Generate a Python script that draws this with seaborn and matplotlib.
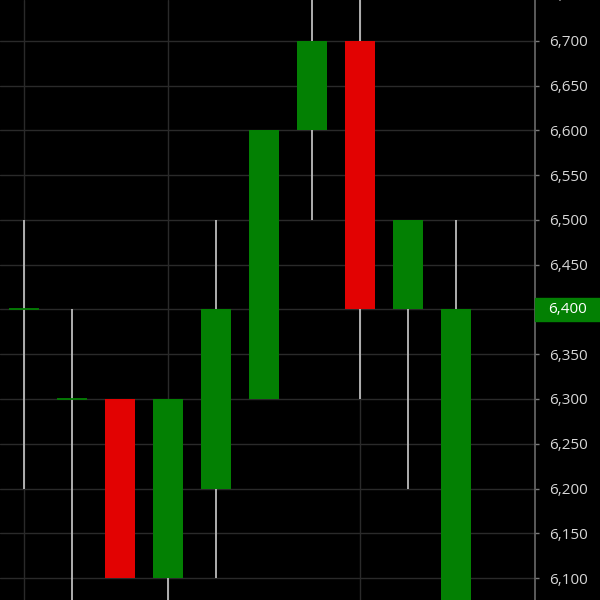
import numpy as np
import pandas as pd
import matplotlib
matplotlib.use("Agg")
import matplotlib.pyplot as plt
import matplotlib.ticker as mticker
import matplotlib.transforms as mtransforms
from matplotlib.patches import Rectangle
import seaborn as sns

# candle data
opens = [6400, 6300, 6300, 6100, 6200, 6300, 6600, 6700, 6400, 6000]
closes = [6400, 6300, 6100, 6300, 6400, 6600, 6700, 6400, 6500, 6400]
highs = [6500, 6400, 6300, 6300, 6500, 6600, 6800, 6800, 6500, 6500]
lows = [6200, 6000, 6100, 6000, 6100, 6300, 6500, 6300, 6200, 6000]
grid_at = [0, 3, 7]  # candles that carry a vertical grid line
last_price = 6400

df = pd.DataFrame({"open": opens, "close": closes, "high": highs, "low": lows})
df["x"] = np.arange(len(df))
df["up"] = df["close"] >= df["open"]

sns.set_theme(style="dark", rc={
    "axes.facecolor": "black",
    "figure.facecolor": "black",
})
plt.rcParams["font.family"] = ["Open Sans", "DejaVu Sans"]

green = "#038003"
red = "#e20202"
wick = "#bcbcbc"
gridc = "#2a2a2a"
labc = "#d6d6d6"

fig = plt.figure(figsize=(6, 6), dpi=100)
ax = fig.add_axes([0, 0, 535 / 600, 1])

for x in grid_at:
    ax.axvline(x, color=gridc, lw=1.0, zorder=0)
for y in np.arange(6100, 6800, 50):
    ax.axhline(y, color=gridc, lw=1.0, zorder=0)

ax.vlines(df["x"], df["low"], df["high"], color=wick, lw=1.3, zorder=2)

colors = [green if u else red for u in df["up"]]
body_lo = df[["open", "close"]].min(axis=1)
body_hi = df[["open", "close"]].max(axis=1)
width = 0.63
ax.bar(df["x"], body_hi - body_lo, bottom=body_lo, width=width,
       color=colors, linewidth=0, zorder=3)
doji = df[df["open"] == df["close"]]
ax.hlines(doji["close"], doji["x"] - width / 2, doji["x"] + width / 2,
          color=green, lw=1.3, zorder=3)

ax.set_xlim(-0.5, 10.65)
ax.set_ylim(6075.5, 6745.5)
ax.set_xticks([])
ax.yaxis.tick_right()
ax.yaxis.set_major_locator(mticker.MultipleLocator(50))
ax.yaxis.set_major_formatter(mticker.FuncFormatter(
    lambda v, p: "" if round(v) == last_price else f"{int(round(v)):,}"))
ax.tick_params(axis="y", colors="#7a7a7a", labelcolor=labc,
               labelsize=11, length=3, width=1, pad=7, right=True)
for s in ["top", "left", "bottom"]:
    ax.spines[s].set_visible(False)
ax.spines["right"].set_color("#6a6a6a")
ax.spines["right"].set_linewidth(1.2)
ax.grid(False)

tr = mtransforms.blended_transform_factory(ax.transAxes, ax.transData)
# 6,750 sits just above the top edge and is cut off
ax.text(1.0 + 15 / 535, 6750, "6,750", transform=tr, color=labc,
        fontsize=11, va="center", ha="left", clip_on=False)

# last price tag
ax.add_patch(Rectangle((1.0, last_price - 13), 600 / 535 - 1.0, 26,
                       transform=tr, color=green, clip_on=False, zorder=5))
ax.text(1.0 + 13 / 535, last_price, f"{last_price:,}", transform=tr,
        color="white", fontsize=11, va="center", ha="left", zorder=6)

fig.savefig("out.png", dpi=100, facecolor="black")
